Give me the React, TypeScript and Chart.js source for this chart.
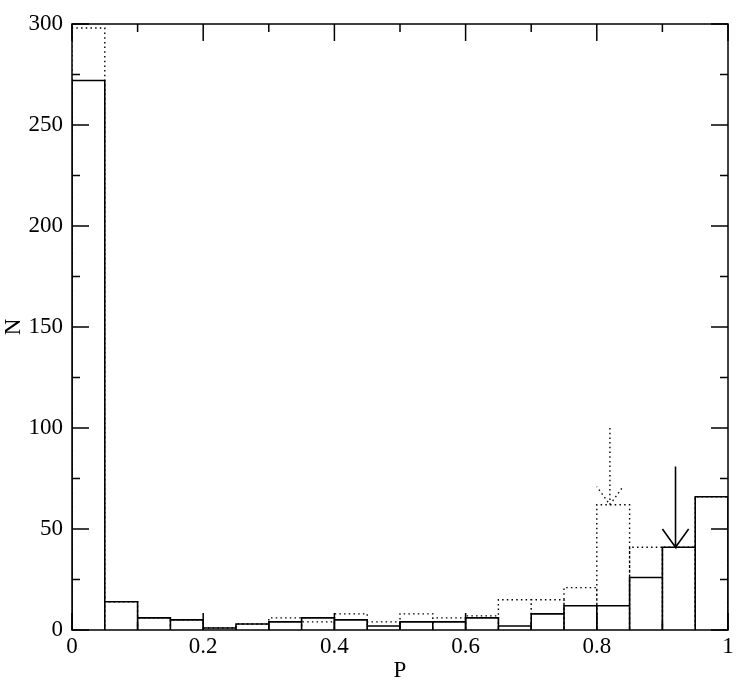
import React, { useEffect, useRef } from "react";
import { Chart, registerables } from "chart.js";

Chart.register(...registerables);

const binEdges = [0, 0.05, 0.1, 0.15, 0.2, 0.25, 0.3, 0.35, 0.4, 0.45, 0.5, 0.55, 0.6, 0.65, 0.7, 0.75, 0.8, 0.85, 0.9, 0.95, 1.0];
const solidCounts = [272, 14, 6, 5, 1, 3, 4, 6, 5, 2, 4, 4, 6, 2, 8, 12, 12, 26, 41, 66];
const dottedCounts = [298, 14, 6, 5, 1, 3, 6, 4, 8, 4, 8, 6, 7, 15, 15, 21, 62, 41, 41, 66];

const arrowX = [0.82, 0.92];
const arrowFrom = [100, 81];
const arrowTo = [62, 41];

const xTickValues = [0, 0.2, 0.4, 0.6, 0.8, 1];
const xTickLabels = ["0", "0.2", "0.4", "0.6", "0.8", "1"];
const yTickValues = [0, 50, 100, 150, 200, 250, 300];
const xMinorTicks = [0.1, 0.3, 0.5, 0.7, 0.9];
const yMinorTicks = [25, 75, 125, 175, 225, 275];

function histPoints(counts: number[]) {
  const pts: { x: number; y: number }[] = [];
  counts.forEach((v, i) => {
    const a = binEdges[i];
    const b = binEdges[i + 1];
    pts.push({ x: a, y: 0 }, { x: a, y: v }, { x: b, y: v }, { x: b, y: 0 });
  });
  return pts;
}

function arrowPoints(i: number) {
  const x = arrowX[i];
  const tip = arrowTo[i];
  const hw = 0.02;
  const hh = 9;
  return [
    { x, y: arrowFrom[i] },
    { x, y: tip },
    { x: x - hw, y: tip + hh },
    { x, y: null as any },
    { x, y: tip },
    { x: x + hw, y: tip + hh },
  ];
}

const FONT = "'Liberation Serif', 'Times New Roman', serif";

const framePlugin = {
  id: "frameTicks",
  afterDatasetsDraw(chart: any) {
    const { ctx, chartArea: a, scales } = chart;
    const xs = scales.x;
    const ys = scales.y;
    ctx.save();
    ctx.strokeStyle = "#000";
    ctx.lineWidth = 1.5;
    ctx.setLineDash([]);
    ctx.strokeRect(a.left, a.top, a.right - a.left, a.bottom - a.top);
    const major = 17;
    const minor = 8;
    ctx.beginPath();
    const xt = (v: number, len: number) => {
      const px = xs.getPixelForValue(v);
      ctx.moveTo(px, a.bottom);
      ctx.lineTo(px, a.bottom - len);
      ctx.moveTo(px, a.top);
      ctx.lineTo(px, a.top + len);
    };
    const yt = (v: number, len: number) => {
      const py = ys.getPixelForValue(v);
      ctx.moveTo(a.left, py);
      ctx.lineTo(a.left + len, py);
      ctx.moveTo(a.right, py);
      ctx.lineTo(a.right - len, py);
    };
    xTickValues.forEach((v) => xt(v, major));
    xMinorTicks.forEach((v) => xt(v, minor));
    yTickValues.forEach((v) => yt(v, major));
    yMinorTicks.forEach((v) => yt(v, minor));
    ctx.stroke();
    ctx.restore();
  },
};

export default function App() {
  const ref = useRef<HTMLCanvasElement | null>(null);
  useEffect(() => {
    document.body.style.margin = "0";
    if (!ref.current) return;
    const lineBase = {
      type: "line" as const,
      pointRadius: 0,
      tension: 0,
      fill: false,
      borderColor: "#000",
      spanGaps: false,
    };
    const chart = new Chart(ref.current, {
      type: "line",
      data: {
        datasets: [
          { ...lineBase, label: "solid", data: histPoints(solidCounts), borderWidth: 1.6 },
          { ...lineBase, label: "solid arrow", data: arrowPoints(1), borderWidth: 1.6 },
          { ...lineBase, label: "dotted", data: histPoints(dottedCounts), borderWidth: 1.4, borderDash: [1.5, 3.2] },
          { ...lineBase, label: "dotted arrow", data: arrowPoints(0), borderWidth: 1.4, borderDash: [1.5, 3.2] },
        ] as any,
      },
      options: {
        animation: false,
        responsive: false,
        layout: { padding: 0 },
        plugins: { legend: { display: false }, tooltip: { enabled: false } },
        scales: {
          x: {
            type: "linear",
            min: 0,
            max: 1,
            position: "bottom",
            afterFit: (s: any) => { s.height = 55; },
            grid: { display: false, drawTicks: false },
            border: { display: false },
            afterBuildTicks: (s: any) => { s.ticks = xTickValues.map((v) => ({ value: v })); },
            ticks: {
              padding: 3,
              color: "#000",
              font: { family: FONT, size: 23 },
              callback: (v: any) => { const i = xTickValues.indexOf(Number(v)); return i >= 0 ? xTickLabels[i] : ""; },
              maxRotation: 0,
            },
            title: { display: true, text: "P", color: "#000", font: { family: FONT, size: 23 }, padding: { top: 0, bottom: 0 } },
          },
          y: {
            type: "linear",
            min: 0,
            max: 300,
            position: "left",
            afterFit: (s: any) => { s.width = 72; },
            grid: { display: false, drawTicks: false },
            border: { display: false },
            afterBuildTicks: (s: any) => { s.ticks = yTickValues.map((v) => ({ value: v })); },
            ticks: { padding: 9, color: "#000", font: { family: FONT, size: 23 } },
            title: { display: true, text: "N", color: "#000", font: { family: FONT, size: 23 }, padding: { top: 0, bottom: 0 } },
          },
          x2: {
            type: "linear",
            position: "top",
            display: true,
            afterFit: (s: any) => { s.height = 24; },
            grid: { display: false, drawTicks: false },
            border: { display: false },
            ticks: { display: false },
          },
          y2: {
            type: "linear",
            position: "right",
            display: true,
            afterFit: (s: any) => { s.width = 13; },
            grid: { display: false, drawTicks: false },
            border: { display: false },
            ticks: { display: false },
          },
        },
      } as any,
      plugins: [framePlugin],
    });
    return () => chart.destroy();
  }, []);
  return <canvas ref={ref} width={741} height={685} style={{ display: "block" }} />;
}
